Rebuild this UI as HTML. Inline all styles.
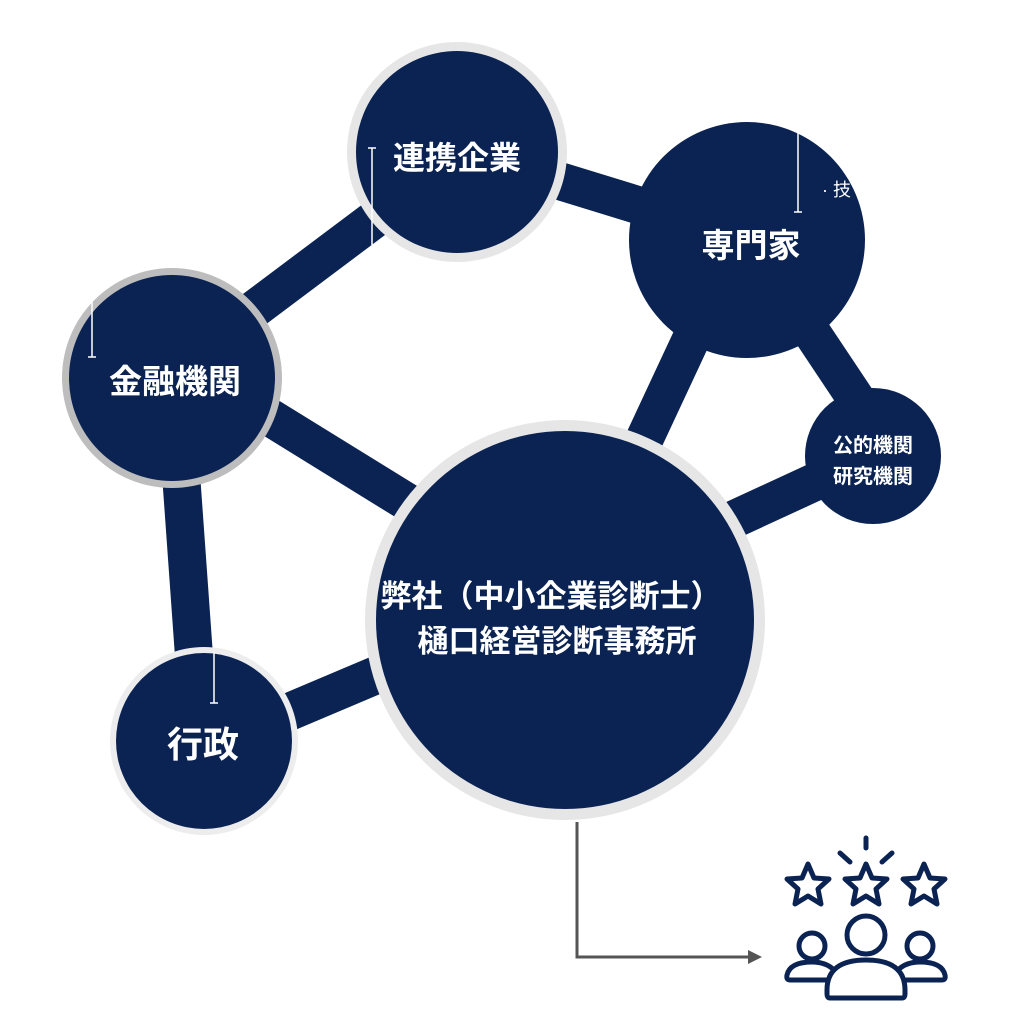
<!DOCTYPE html>
<html><head><meta charset="utf-8"><style>
body{margin:0;background:#fff}
svg text{font-family:"Liberation Sans","Noto Sans CJK JP",sans-serif;font-weight:bold;fill:#fff}
</style></head><body>
<svg width="1024" height="1024" viewBox="0 0 1024 1024" xmlns="http://www.w3.org/2000/svg">
<g stroke="#0b2352" stroke-width="38" stroke-linecap="butt">
<line x1="400" y1="200" x2="240" y2="320"/>
<line x1="540" y1="175" x2="670" y2="215"/>
<line x1="250" y1="405" x2="420" y2="510"/>
<line x1="180" y1="460" x2="195" y2="670"/>
<line x1="270" y1="720" x2="400" y2="665"/>
<line x1="700" y1="320" x2="630" y2="470"/>
<line x1="810" y1="330" x2="860" y2="405"/>
<line x1="700" y1="535" x2="830" y2="475"/>
</g>
<circle cx="457" cy="152" r="110" fill="#e6e6e6"/>
<circle cx="457" cy="152" r="101" fill="#0b2352"/>
<circle cx="172" cy="378" r="110" fill="#bdbdbd"/>
<circle cx="172" cy="378" r="103" fill="#0b2352"/>
<circle cx="565" cy="620" r="200" fill="#e6e6e6"/>
<circle cx="565" cy="620" r="189" fill="#0b2352"/>
<circle cx="204" cy="741" r="94" fill="#ededed"/>
<circle cx="204" cy="741" r="88" fill="#0b2352"/>
<circle cx="747" cy="240" r="118" fill="#0b2352"/>
<circle cx="873" cy="456" r="68" fill="#0b2352"/>
<g stroke="#fff" stroke-width="1.5" fill="none">
<line x1="372" y1="148" x2="372" y2="245"/><line x1="368" y1="148" x2="376" y2="148"/>
<line x1="798" y1="125" x2="798" y2="212"/><line x1="794" y1="212" x2="802" y2="212"/>
<line x1="92" y1="300" x2="92" y2="357"/><line x1="88" y1="357" x2="96" y2="357"/>
<line x1="214" y1="652" x2="214" y2="703"/><line x1="210" y1="703" x2="218" y2="703"/>
</g>
<text x="822" y="196" font-size="18" style="font-weight:normal">· 技</text>
<text x="457" y="169" font-size="32" text-anchor="middle">連携企業</text>
<text x="751" y="257" font-size="33" text-anchor="middle">専門家</text>
<text x="175" y="393" font-size="33" text-anchor="middle">金融機関</text>
<text x="873" y="452" font-size="20" text-anchor="middle">公的機関</text>
<text x="873" y="483" font-size="20" text-anchor="middle">研究機関</text>
<text x="551" y="607" font-size="31" text-anchor="middle">弊社（中小企業診断士）</text>
<text x="557" y="652" font-size="31" text-anchor="middle">樋口経営診断事務所</text>
<text x="203" y="757" font-size="36" text-anchor="middle">行政</text>
<polyline points="577,822 577,957 750,957" fill="none" stroke="#555" stroke-width="3"/>
<polygon points="762,957 748,950 748,964" fill="#555"/>
<g fill="none" stroke="#0b2352" stroke-width="5" stroke-linejoin="round" stroke-linecap="round">
<polygon points="808,864 814,878 829,879 818,889 821,904 808,896 795,904 798,889 787,879 802,878"/>
<polygon points="866,864 872,878 887,879 876,889 879,904 866,896 853,904 856,889 845,879 860,878"/>
<polygon points="924,864 930,878 945,879 934,889 937,904 924,896 911,904 914,889 903,879 918,878"/>
<line x1="866" y1="838" x2="866" y2="848"/><line x1="840" y1="853" x2="850" y2="862"/><line x1="892" y1="853" x2="882" y2="862"/>
<circle cx="866" cy="935" r="19"/>
<circle cx="812" cy="946" r="13"/><circle cx="920" cy="946" r="13"/>
<path d="M830 998 L902 998 Q905 998 905 994 L905 990 Q905 960 866 960 Q827 960 827 990 L827 994 Q827 998 830 998Z"/>
<path d="M826 980 L790 980 Q786 980 787 975 Q790 962 812 962 Q826 962 834 970"/>
<path d="M906 980 L942 980 Q946 980 945 975 Q942 962 920 962 Q906 962 898 970"/>
</g>
</svg>
</body></html>
